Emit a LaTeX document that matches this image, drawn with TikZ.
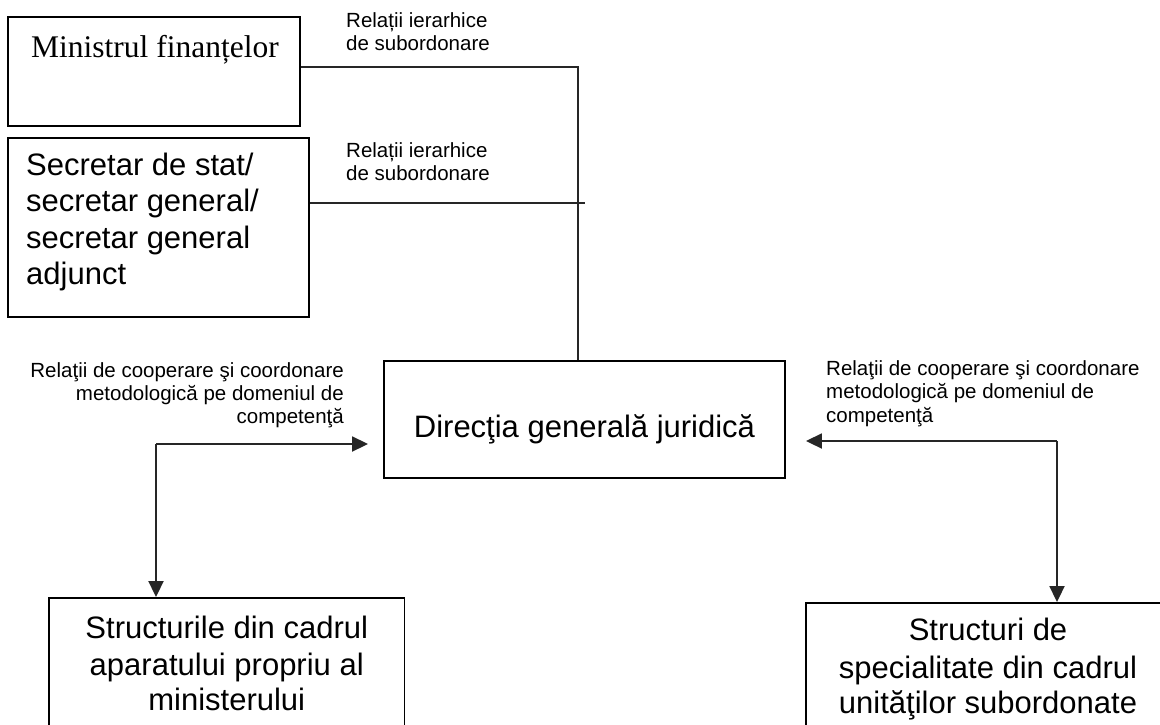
\documentclass[tikz,border=0pt]{standalone}
\usepackage{fontspec}
\setmainfont{Liberation Sans}
\newfontfamily\timesf{Liberation Serif}
\usetikzlibrary{arrows.meta}
\begin{document}
\begin{tikzpicture}[x=1pt,y=-1pt,
  box/.style={draw=black, line width=1.9pt, inner sep=0pt},
  big/.style={font=\fontsize{31}{36}\selectfont, inner sep=0pt},
  sec/.style={font=\fontsize{31}{36}\selectfont, inner sep=0pt, anchor=base west},
  lab/.style={font=\fontsize{20.5}{23}\selectfont, inner sep=0pt},
  con/.style={draw=black!85, line width=1.9pt},
  arr/.style={con, -{Triangle[length=16pt,width=15pt]}}]
\useasboundingbox (0,0) rectangle (1160,724);
\clip (0,0) rectangle (1160,724);
\fill[white] (0,0) rectangle (1160,724);

% boxes
\node[box, minimum width=292pt, minimum height=109pt] (m) at (154,71.5) {};
\node[box, minimum width=301pt, minimum height=179pt] (s) at (158.5,227.5) {};
\node[box, minimum width=401pt, minimum height=117pt] (d) at (584.5,419.5) {};
\node[box, minimum width=355.5pt, minimum height=142pt] (bl) at (226.75,669) {};
\node[box, minimum width=364pt, minimum height=137pt] (br) at (988,671.5) {};

% box texts
\node[font=\timesf\fontsize{31.5}{36}\selectfont, inner sep=0pt, anchor=base] (mt) at (155,57) {Ministrul finanțelor};
\node[sec] (s1) at (26,175) {Secretar de stat/};
\node[sec] (s2) at (26,211.5) {secretar general/};
\node[sec] (s3) at (26,248) {secretar general};
\node[sec] (s4) at (26,284.5) {adjunct};
\node[big, anchor=base] (dt) at (584.5,437) {Direcţia generală juridică};
\node[big, anchor=base] (bl1) at (226.75,638) {Structurile din cadrul};
\node[big, anchor=base] (bl2) at (226.75,675) {aparatului propriu al};
\node[big, anchor=base] (bl3) at (226.75,710) {ministerului};
\node[big, anchor=base] (br1) at (988,640) {Structuri de};
\node[big, anchor=base] (br2) at (988,678) {specialitate din cadrul};
\node[big, anchor=base] (br3) at (988,713) {unităţilor subordonate};

% labels
\node[lab, anchor=base west] (la1) at (346,27.5) {Relații ierarhice};
\node[lab, anchor=base west] (la2) at (346,50.5) {de subordonare};
\node[lab, anchor=base west] (lb1) at (346,157.5) {Relații ierarhice};
\node[lab, anchor=base west] (lb2) at (346,180.5) {de subordonare};
\node[lab, anchor=base east] (lc1) at (344,377.5) {Relaţii de cooperare şi coordonare};
\node[lab, anchor=base east] (lc2) at (344,400.5) {metodologică pe domeniul de};
\node[lab, anchor=base east] (lc3) at (344,423.5) {competenţă};
\node[lab, anchor=base west] (ld1) at (826,375.5) {Relaţii de cooperare şi coordonare};
\node[lab, anchor=base west] (ld2) at (826,398.5) {metodologică pe domeniul de};
\node[lab, anchor=base west] (ld3) at (826,422.5) {competenţă};

% connectors
\draw[con] ([yshift=4.5pt]m.east) -| ([xshift=-6.5pt]d.north);
\coordinate (t2) at (585,203);
\draw[con] (s.east |- t2) -- (t2);

\coordinate (jl) at (156,444);
\draw[arr, shorten >=15pt] (jl) -- (jl -| d.west);
\draw[arr] (jl) -- (bl.north -| jl);

\coordinate (jr) at (1057,441);
\draw[arr, shorten >=20pt] (jr) -- (jr -| d.east);
\draw[arr] (jr) -- (br.north -| jr);
\end{tikzpicture}
\end{document}
